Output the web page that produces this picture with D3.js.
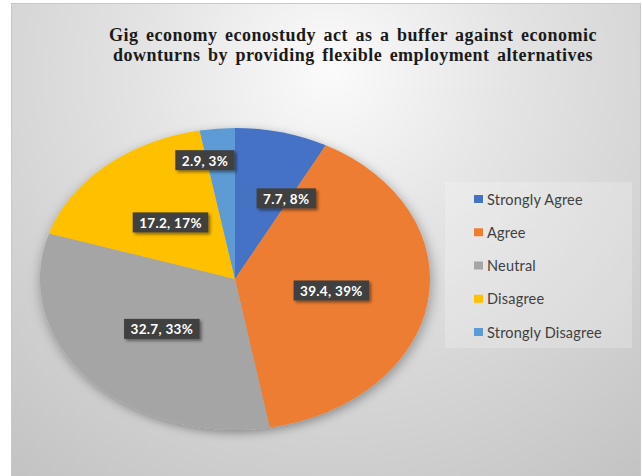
<!DOCTYPE html>
<html>
<head>
<meta charset="utf-8">
<script src="https://cdn.jsdelivr.net/npm/d3@7"></script>
<style>
  html, body { margin: 0; padding: 0; background: #ffffff; }
  svg { display: block; }
  .title { font-family: "Liberation Serif", "Times New Roman", "DejaVu Serif", serif; font-weight: bold; }
</style>
</head>
<body>
<svg id="chart" width="642" height="476"></svg>
<script>
// Survey responses
const categories = ["Strongly Agree", "Agree", "Neutral", "Disagree", "Strongly Disagree"];
const values = [7.7, 39.4, 32.7, 17.2, 2.9];
const percentLabels = ["8%", "39%", "33%", "17%", "3%"];
const colors = ["#4472C4", "#ED7D31", "#A5A5A5", "#FFC000", "#5B9BD5"];
const titleLines = [
  "Gig economy econostudy act as a buffer against economic",
  "downturns by providing flexible employment alternatives"
];
// label placement: fraction of radius along slice bisector, and sideways shift in box widths
const labelRadius = [0.55, 0.5, 0.5, 0.5, 0.79];
const labelShift = [0.43, 0, 0, 0, -0.27];

const svg = d3.select("#chart");

const defs = svg.append("defs");
const bg = defs.append("radialGradient")
  .attr("id", "bgGrad").attr("gradientUnits", "userSpaceOnUse")
  .attr("cx", 330).attr("cy", 70).attr("r", 520);
bg.append("stop").attr("offset", 0).attr("stop-color", "#fbfbfb");
bg.append("stop").attr("offset", 0.35).attr("stop-color", "#e4e4e4");
bg.append("stop").attr("offset", 1).attr("stop-color", "#c2c2c2");

const pieShadow = defs.append("filter").attr("id", "pieShadow")
  .attr("x", "-20%").attr("y", "-20%").attr("width", "140%").attr("height", "140%");
pieShadow.append("feDropShadow").attr("dx", 1).attr("dy", 3)
  .attr("stdDeviation", 5).attr("flood-color", "#000").attr("flood-opacity", 0.35);

const boxShadow = defs.append("filter").attr("id", "boxShadow")
  .attr("x", "-20%").attr("y", "-40%").attr("width", "150%").attr("height", "190%");
boxShadow.append("feDropShadow").attr("dx", 2).attr("dy", 2)
  .attr("stdDeviation", 1.5).attr("flood-color", "#000").attr("flood-opacity", 0.45);

// chart area
svg.append("rect").attr("x", 11.5).attr("y", 3.5).attr("width", 629).attr("height", 480)
  .attr("fill", "url(#bgGrad)").attr("stroke", "#c8c8c8").attr("stroke-width", 1);

// title
const title = svg.append("text")
  .attr("class", "title")
  .attr("text-anchor", "middle")
  .attr("font-size", 18).attr("fill", "#1a1a1a")
  .attr("letter-spacing", 0.5).attr("word-spacing", 2.5);
titleLines.forEach((t, i) => {
  title.append("tspan").attr("x", 353).attr("y", 41 + i * 20).text(t);
});

// pie, drawn as a circle then stretched horizontally
const cx = 235, cy = 279, ry = 151, rx = 195;
const sx = rx / ry;
const pie = d3.pie().sort(null).value(d => d);
const arcs = pie(values);
const arc = d3.arc().innerRadius(0).outerRadius(ry);

const pieG = svg.append("g")
  .attr("transform", `translate(${cx},${cy}) scale(${sx},1)`)
  .attr("filter", "url(#pieShadow)");
pieG.selectAll("path").data(arcs).join("path")
  .attr("d", arc)
  .attr("fill", (d, i) => colors[i]);

// data labels
const labelG = svg.append("g")
  .attr("font-family", "Lato, 'Open Sans', sans-serif")
  .attr("font-weight", "bold").attr("font-size", 13.5);
arcs.forEach((d, i) => {
  const a = (d.startAngle + d.endAngle) / 2;
  const f = labelRadius[i];
  const px = cx + f * rx * Math.sin(a);
  const py = cy - f * ry * Math.cos(a);
  const txt = `${values[i]}, ${percentLabels[i]}`;
  const g = labelG.append("g");
  const t = g.append("text").attr("fill", "#ffffff").attr("text-anchor", "middle")
    .attr("dominant-baseline", "central").attr("letter-spacing", 0.3).text(txt);
  const bw = t.node().getComputedTextLength() + 13;
  const bh = 20;
  const x0 = px + labelShift[i] * bw;
  g.insert("rect", "text")
    .attr("x", x0 - bw / 2).attr("y", py - bh / 2)
    .attr("width", bw).attr("height", bh)
    .attr("fill", "#404040").attr("filter", "url(#boxShadow)");
  t.attr("x", x0).attr("y", py + 0.5);
});

// legend
const legend = svg.append("g");
legend.append("rect").attr("x", 445).attr("y", 182).attr("width", 187).attr("height", 166)
  .attr("fill", "#ffffff").attr("fill-opacity", 0.22);
const ly = d3.scalePoint().domain(categories).range([199, 332]);
const items = legend.selectAll("g.item").data(categories).join("g")
  .attr("class", "item")
  .attr("transform", d => `translate(474,${ly(d)})`);
items.append("rect").attr("x", 0).attr("y", -4).attr("width", 9).attr("height", 8)
  .attr("fill", (d, i) => colors[i]);
items.append("text").attr("x", 13).attr("y", 0).attr("dominant-baseline", "central")
  .attr("font-family", "Lato, 'Open Sans', sans-serif").attr("font-size", 14.5)
  .attr("letter-spacing", 0.2)
  .attr("fill", "#404040").text(d => d);
</script>
</body>
</html>
